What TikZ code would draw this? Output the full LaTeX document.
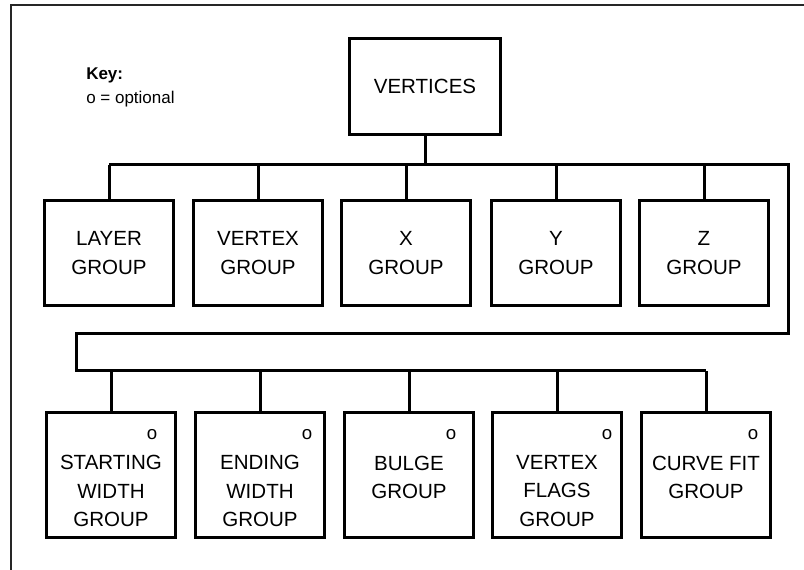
\documentclass[tikz,border=0pt]{standalone}
\usepackage{fontspec}
\setmainfont{Liberation Sans}
\begin{document}
\begin{tikzpicture}[x=0.75pt,y=-0.75pt,
  box/.style={draw, line width=2.25pt, inner sep=0pt, align=center, font=\fontsize{15.4}{21.4}\selectfont},
  topbox/.style={box, minimum width=96.75pt, minimum height=78.75pt},
  botbox/.style={box, minimum width=96.75pt, minimum height=93.75pt},
  lbl/.style={inner sep=0pt, align=center, font=\fontsize{15.4}{21.4}\selectfont},
  opt/.style={inner sep=0pt, font=\fontsize{14}{16}\selectfont},
  keytxt/.style={anchor=base west, inner sep=0pt, font=\fontsize{12.75}{15}\selectfont},
  wire/.style={line width=2.25pt},
  frame/.style={draw=black!85, line width=1.5pt}]
\useasboundingbox (0,0) rectangle (804,570);
\draw[frame] (11,570) -- (11,5) -- (804,5);

% key
\node[keytxt, font=\fontsize{12.75}{15}\selectfont\bfseries] (key) at (86,80) {Key:};
\node[keytxt] (keyo) at (86,104) {o = optional};

% root
\node[box, minimum width=113.25pt, minimum height=72pt] (v) at (425,86.5) {VERTICES};

% top row
\node[topbox] (t1) at (109,253) {LAYER\\GROUP};
\node[topbox] (t2) at (258,253) {VERTEX\\GROUP};
\node[topbox] (t3) at (406,253) {X\\GROUP};
\node[topbox] (t4) at (556,253) {Y\\GROUP};
\node[topbox] (t5) at (704,253) {Z\\GROUP};

% bottom row
\node[botbox] (s1) at (111,475) {};
\node[botbox] (s2) at (260,475) {};
\node[botbox] (s3) at (409,475) {};
\node[botbox] (s4) at (557,475) {};
\node[botbox] (s5) at (706,475) {};
\node[lbl] (s1t) at (111,491) {STARTING\\WIDTH\\GROUP};
\node[lbl] (s2t) at (260,491) {ENDING\\WIDTH\\GROUP};
\node[lbl] (s3t) at (409,477.5) {BULGE\\GROUP};
\node[lbl] (s4t) at (557,491) {VERTEX\\FLAGS\\GROUP};
\node[lbl] (s5t) at (706,477.5) {CURVE FIT\\GROUP};
\node[opt] (o1) at (152,435) {o};
\node[opt] (o2) at (307,435) {o};
\node[opt] (o3) at (451,435) {o};
\node[opt] (o4) at (607,435) {o};
\node[opt] (o5) at (753,435) {o};

% connectors
\coordinate (j1) at (425,165);
\coordinate (r1) at (788,165);
\coordinate (r2) at (788,334);
\coordinate (l2) at (76,334);
\coordinate (l3) at (76,371);
\draw[wire] (v.south) -- (j1);
\draw[wire] (t1.north |- r1) -- (r1) -- (r2) -- (l2) -- (l3) -- (s5.north |- l3);
\foreach \n in {t1,t2,t3,t4,t5} \draw[wire] (\n.north) -- (\n.north |- r1);
\foreach \n in {s1,s2,s3,s4,s5} \draw[wire] (\n.north) -- (\n.north |- l3);
\end{tikzpicture}
\end{document}
